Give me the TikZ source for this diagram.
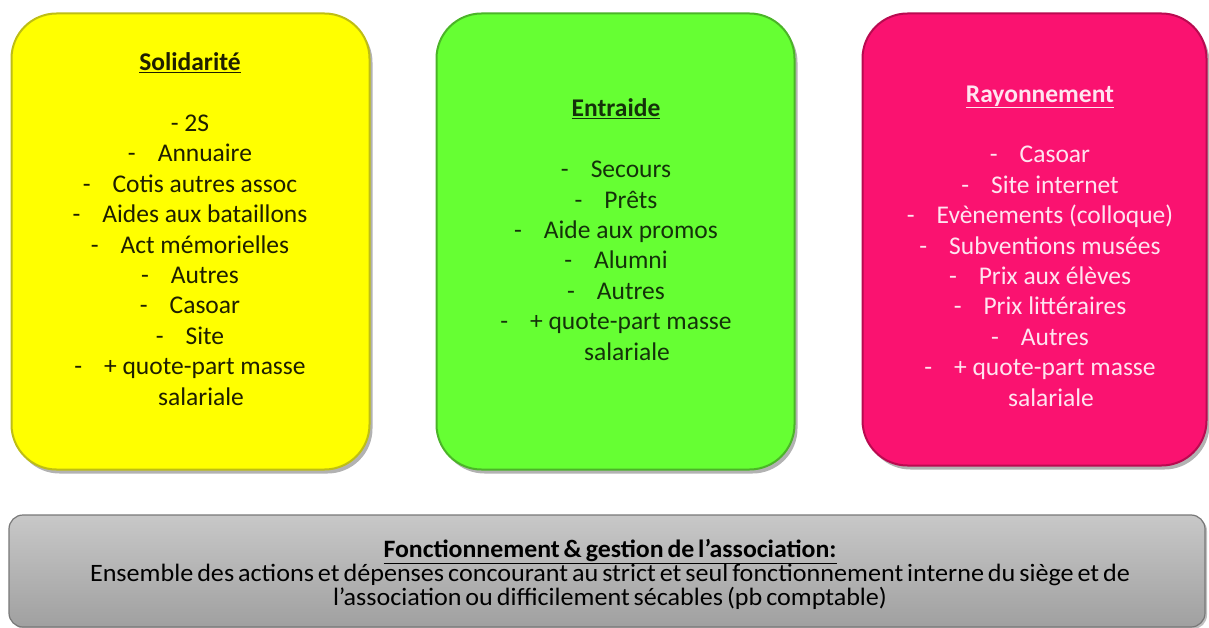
\documentclass[tikz,border=0pt]{standalone}
\usepackage{fontspec}
\setmainfont{Carlito}
\usetikzlibrary{shadows}
\definecolor{cyel}{RGB}{255,255,0}
\definecolor{cyelrim}{RGB}{190,190,20}
\definecolor{cyeltxt}{RGB}{30,30,0}
\definecolor{cgrn}{RGB}{102,255,51}
\definecolor{cgrnrim}{RGB}{75,180,40}
\definecolor{cgrntxt}{RGB}{20,50,10}
\definecolor{cmag}{RGB}{250,18,112}
\definecolor{cmagrim}{RGB}{185,10,80}
\definecolor{cmagtxt}{RGB}{255,228,240}
\definecolor{cgrytop}{RGB}{200,200,200}
\definecolor{cgrybot}{RGB}{160,160,160}
\definecolor{cgryrim}{RGB}{120,120,120}
\newcommand\dashitem[1]{-\hspace{22pt}#1}
\newcommand\tightline[2]{\resizebox{#1}{\height}{\spaceskip=0.15em plus 0.02em\relax #2}}
\begin{document}
\begin{tikzpicture}[x=1pt,y=-1pt,
  card/.style={rectangle, rounded corners=45pt, line width=2pt,
    drop shadow={shadow xshift=3pt,shadow yshift=-4pt,opacity=0.3,fill=black}},
  cardtext/.style={align=center, anchor=base, inner sep=0pt,
    font=\fontsize{25.5}{30.4}\selectfont},
  bartext/.style={align=center, anchor=base, inner sep=0pt,
    font=\fontsize{25}{23.7}\selectfont, text=black}
]
\useasboundingbox (0,0) rectangle (1209,628);
\fill[white] (0,0) rectangle (1209,628);

% cards
\node[card, fill=cyel, draw=cyelrim, minimum width=358pt, minimum height=456pt] (sol) at (190.5,241.5) {};
\node[card, fill=cgrn, draw=cgrnrim, minimum width=358pt, minimum height=456pt] (ent) at (615.5,241.5) {};
\node[card, fill=cmag, draw=cmagrim, minimum width=344pt, minimum height=452pt] (ray) at (1034.5,239.5) {};

% texts (anchored at the baseline of the last line)
\node[cardtext, text=cyeltxt] (soltxt) at (190,405) {%
  \underline{\textbf{Solidarité}}\\[30.4pt]
  - 2S\\
  \dashitem{Annuaire}\\
  \dashitem{Cotis autres assoc}\\
  \dashitem{Aides aux bataillons}\\
  \dashitem{Act mémorielles}\\
  \dashitem{Autres}\\
  \dashitem{Casoar}\\
  \dashitem{Site}\\
  \dashitem{+ quote-part masse}\\
  \hspace{22pt}salariale};

\node[cardtext, text=cgrntxt] (enttxt) at (616,360) {%
  \underline{\textbf{Entraide}}\\[30.4pt]
  \dashitem{Secours}\\
  \dashitem{Prêts}\\
  \dashitem{Aide aux promos}\\
  \dashitem{Alumni}\\
  \dashitem{Autres}\\
  \dashitem{+ quote-part masse}\\
  \hspace{22pt}salariale};

\node[cardtext, text=cmagtxt] (raytxt) at (1040,406) {%
  \underline{\textbf{Rayonnement}}\\[30.4pt]
  \dashitem{Casoar}\\
  \dashitem{Site internet}\\
  \dashitem{Evènements (colloque)}\\
  \dashitem{Subventions musées}\\
  \dashitem{Prix aux élèves}\\
  \dashitem{Prix littéraires}\\
  \dashitem{Autres}\\
  \dashitem{+ quote-part masse}\\
  \hspace{22pt}salariale};

% bottom bar
\node[rectangle, rounded corners=14pt, top color=cgrytop, bottom color=cgrybot,
  draw=cgryrim, line width=1.2pt, minimum width=1196pt, minimum height=112pt,
  drop shadow={shadow xshift=2pt,shadow yshift=-2pt,opacity=0.25,fill=black}]
  (bar) at (607,571) {};
\node[bartext] (bartxt) at (610,605) {%
  \tightline{453pt}{\underline{\textbf{Fonctionnement \& gestion de l’association:}}}\\
  \tightline{1040pt}{Ensemble des actions et dépenses concourant au strict et seul fonctionnement interne du siège et de}\\
  \tightline{554pt}{l’association ou difficilement sécables (pb comptable)}};
\end{tikzpicture}
\end{document}
